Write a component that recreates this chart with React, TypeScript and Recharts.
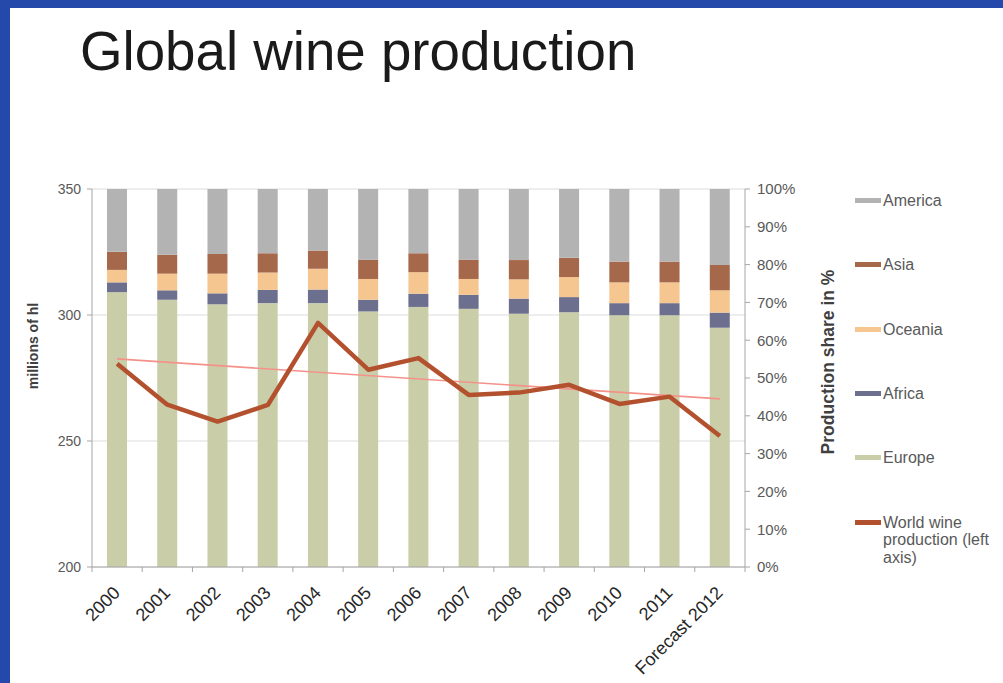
import React from 'react';
import { ComposedChart, Bar, Line, XAxis, YAxis, CartesianGrid } from 'recharts';

// ---------- data ----------
const years = ['2000', '2001', '2002', '2003', '2004', '2005', '2006', '2007', '2008', '2009', '2010', '2011', 'Forecast 2012'];
const europe = [72.7, 70.7, 69.5, 69.8, 69.8, 67.6, 68.8, 68.3, 67.0, 67.4, 66.6, 66.6, 63.3];
const africa = [2.6, 2.5, 2.9, 3.5, 3.6, 3.1, 3.5, 3.7, 4.0, 4.0, 3.2, 3.2, 4.0];
const oceania = [3.3, 4.4, 5.2, 4.6, 5.5, 5.5, 5.7, 4.2, 5.1, 5.3, 5.5, 5.5, 5.9];
const asia = [4.8, 5.0, 5.2, 5.1, 4.8, 5.1, 5.0, 5.1, 5.1, 5.1, 5.5, 5.5, 6.7];
const america = [16.6, 17.4, 17.2, 17.0, 16.3, 18.7, 17.0, 18.7, 18.8, 18.2, 19.2, 19.2, 20.1];
const worldProduction = [280.7, 264.4, 257.7, 264.3, 296.9, 278.3, 282.9, 268.3, 269.2, 272.3, 264.7, 267.6, 252.0];
const trendStart = 282.6;
const trendEnd = 266.7;
const leftTicks = [200, 250, 300, 350];
const rightTicks = [0, 10, 20, 30, 40, 50, 60, 70, 80, 90, 100];

const seriesNames = { america: 'America', asia: 'Asia', oceania: 'Oceania', africa: 'Africa', europe: 'Europe', world: 'World wine production (left axis)' };
const colors = {
  america: '#b3b3b3',
  asia: '#a5684a',
  oceania: '#f5c690',
  africa: '#6d6f8e',
  europe: '#c9cea9',
  world: '#b3512f',
  trend: '#f4928a',
};
const legendOrder = ['america', 'asia', 'oceania', 'africa', 'europe', 'world'];

const data = years.map((year, i) => ({
  year,
  europe: europe[i],
  africa: africa[i],
  oceania: oceania[i],
  asia: asia[i],
  america: america[i],
  world: worldProduction[i],
  trend: i === 0 ? trendStart : i === years.length - 1 ? trendEnd : null,
}));

// ---------- layout ----------
const W = 1003;
const H = 683;
const PLOT_LEFT = 92;
const PLOT_RIGHT = 745;
const PLOT_TOP = 189;
const PLOT_BOTTOM = 567;
const LEFT_AXIS_W = 50;
const RIGHT_AXIS_W = 60;
const X_AXIS_H = 100;
const FONT = '"Liberation Sans", Arial, Helvetica, sans-serif';
const AXIS_COLOR = '#a6a6a6';

const XTick = (props: any) => {
  const { x, y, payload, index } = props;
  const half = (PLOT_RIGHT - PLOT_LEFT) / years.length / 2;
  const ax = x + 4;
  const ay = y + 27;
  return (
    <g>
      <line x1={x - half} x2={x - half} y1={y} y2={y + 5} stroke={AXIS_COLOR} />
      {index === years.length - 1 && <line x1={x + half} x2={x + half} y1={y} y2={y + 5} stroke={AXIS_COLOR} />}
      <text
        x={ax}
        y={ay}
        transform={`rotate(-45 ${ax} ${ay})`}
        textAnchor="end"
        fontSize={18}
        fontFamily={FONT}
        fill="#262626"
      >
        {payload.value}
      </text>
    </g>
  );
};

export default function App() {
  return (
    <div style={{ position: 'absolute', left: 0, top: 0, width: W, height: H, background: '#2548ab', overflow: 'hidden', fontFamily: FONT }}>
      <div style={{ position: 'absolute', left: 10, top: 8, width: W - 10, height: H - 8, background: '#ffffff' }} />
      <div style={{ position: 'absolute', left: 0, top: 0 }}>
        <ComposedChart
          width={W}
          height={H}
          data={data}
          margin={{
            top: PLOT_TOP,
            bottom: H - PLOT_BOTTOM - X_AXIS_H,
            left: PLOT_LEFT - LEFT_AXIS_W,
            right: W - PLOT_RIGHT - RIGHT_AXIS_W,
          }}
        >
          <CartesianGrid yAxisId="left" vertical={false} stroke="#dcdcdc" />
          <XAxis
            dataKey="year"
            interval={0}
            height={X_AXIS_H}
            tickLine={false}
            tickSize={0}
            tickMargin={0}
            axisLine={{ stroke: AXIS_COLOR }}
            tick={<XTick />}
          />
          <YAxis
            yAxisId="left"
            width={LEFT_AXIS_W}
            domain={[200, 350]}
            ticks={leftTicks}
            allowDataOverflow
            axisLine={{ stroke: AXIS_COLOR }}
            tickLine={{ stroke: AXIS_COLOR }}
            tickSize={5}
            tickMargin={6}
            tick={{ fontSize: 14, fill: '#595959', fontFamily: FONT }}
          />
          <YAxis
            yAxisId="right"
            orientation="right"
            width={RIGHT_AXIS_W}
            domain={[0, 100]}
            ticks={rightTicks}
            allowDataOverflow
            tickFormatter={(v: number) => `${v}%`}
            axisLine={{ stroke: AXIS_COLOR }}
            tickLine={{ stroke: AXIS_COLOR }}
            tickSize={5}
            tickMargin={7}
            tick={{ fontSize: 15, fill: '#595959', fontFamily: FONT }}
          />
          <Bar yAxisId="right" dataKey="europe" stackId="share" fill={colors.europe} barSize={20} isAnimationActive={false} />
          <Bar yAxisId="right" dataKey="africa" stackId="share" fill={colors.africa} barSize={20} isAnimationActive={false} />
          <Bar yAxisId="right" dataKey="oceania" stackId="share" fill={colors.oceania} barSize={20} isAnimationActive={false} />
          <Bar yAxisId="right" dataKey="asia" stackId="share" fill={colors.asia} barSize={20} isAnimationActive={false} />
          <Bar yAxisId="right" dataKey="america" stackId="share" fill={colors.america} barSize={20} isAnimationActive={false} />
          <Line
            yAxisId="left"
            dataKey="trend"
            stroke={colors.trend}
            strokeWidth={1.6}
            dot={false}
            activeDot={false}
            connectNulls
            legendType="none"
            isAnimationActive={false}
          />
          <Line
            yAxisId="left"
            dataKey="world"
            stroke={colors.world}
            strokeWidth={4.5}
            strokeLinejoin="round"
            dot={false}
            activeDot={false}
            isAnimationActive={false}
          />
        </ComposedChart>
      </div>
      <svg width={W} height={H} style={{ position: 'absolute', left: 0, top: 0, pointerEvents: 'none' }}>
        <text x={80} y={70} fontSize={54.7} fontFamily={FONT} fill="#1a1a1a">Global wine production</text>
        <text
          x={0}
          y={0}
          transform="translate(38 346) rotate(-90)"
          textAnchor="middle"
          fontSize={14}
          fontWeight="bold"
          fontFamily={FONT}
          fill="#404040"
        >
          millions of hl
        </text>
        <text
          x={0}
          y={0}
          transform="translate(834 362) rotate(-90)"
          textAnchor="middle"
          fontSize={17.5}
          fontWeight="bold"
          fontFamily={FONT}
          fill="#404040"
        >
          Production share in %
        </text>
      </svg>
      <div style={{ position: 'absolute', left: 855, top: 190 }}>
        {legendOrder.map((key, i) => (
          <div
            key={key}
            style={{ position: 'absolute', left: 0, top: i * 64.3, display: 'flex', alignItems: 'flex-start', width: 148 }}
          >
            <div style={{ width: 26, height: 5, marginTop: 8, background: (colors as any)[key], flex: '0 0 auto' }} />
            <div style={{ fontSize: 16, lineHeight: '17.5px', color: '#595959', width: 116, marginLeft: 2, marginTop: 2 }}>
              {(seriesNames as any)[key]}
            </div>
          </div>
        ))}
      </div>
    </div>
  );
}
